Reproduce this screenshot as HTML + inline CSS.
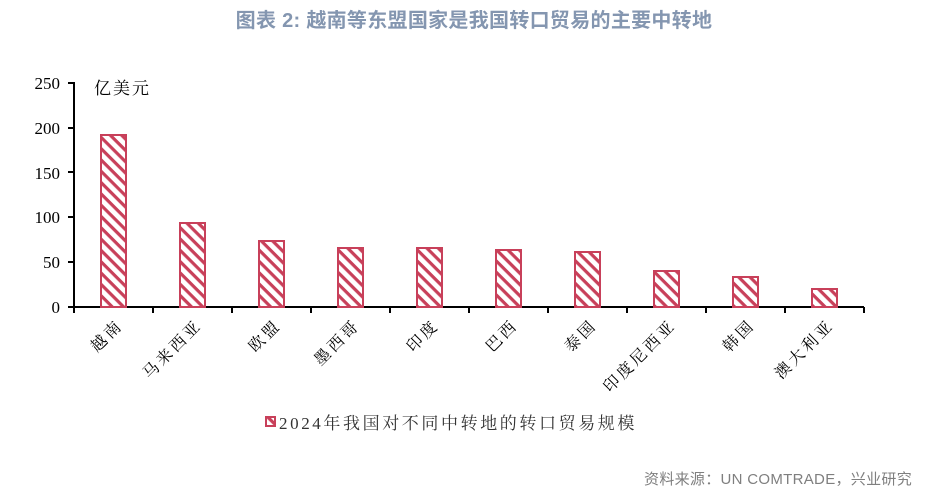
<!DOCTYPE html>
<html><head><meta charset="utf-8"><style>
body{margin:0;background:#fff;width:944px;height:494px;overflow:hidden}
</style></head><body>
<svg width="944" height="494" xmlns="http://www.w3.org/2000/svg">
<defs>
<pattern id="h" width="8" height="8" patternUnits="userSpaceOnUse" patternTransform="rotate(45)">
<rect width="8" height="8" fill="#fff"/><rect width="8" height="3.2" fill="#c8405a"/>
</pattern>
</defs>
<text x="474" y="27" text-anchor="middle" font-family="'Liberation Sans','Noto Sans CJK SC',sans-serif" font-weight="bold" font-size="20" letter-spacing="0.3" fill="#8496b0">图表 2:  越南等东盟国家是我国转口贸易的主要中转地</text>
<g font-family="'Liberation Serif','Noto Serif CJK SC',serif" font-size="17" fill="#000" text-anchor="end">
<text x="60" y="89">250</text><text x="60" y="134">200</text><text x="60" y="179">150</text>
<text x="60" y="223">100</text><text x="60" y="268">50</text><text x="60" y="313">0</text>
</g>
<text x="94" y="94" font-family="'Noto Serif CJK SC',serif" font-size="17" letter-spacing="2">亿美元</text>
<g stroke="#000" stroke-width="2">
<line x1="74" y1="82" x2="74" y2="308"/>
<line x1="73" y1="307" x2="864" y2="307"/>
<line x1="68" y1="83" x2="74" y2="83"/><line x1="68" y1="128" x2="74" y2="128"/>
<line x1="68" y1="172" x2="74" y2="172"/><line x1="68" y1="217" x2="74" y2="217"/>
<line x1="68" y1="262" x2="74" y2="262"/><line x1="68" y1="307" x2="74" y2="307"/>
</g>
<g stroke="#c8405a" stroke-width="2" fill="url(#h)">
<rect x="101" y="135" width="25" height="172"/>
<rect x="180" y="223" width="25" height="84"/>
<rect x="259" y="241" width="25" height="66"/>
<rect x="338" y="248" width="25" height="59"/>
<rect x="417" y="248" width="25" height="59"/>
<rect x="496" y="250" width="25" height="57"/>
<rect x="575" y="252" width="25" height="55"/>
<rect x="654" y="271" width="25" height="36"/>
<rect x="733" y="277" width="25" height="30"/>
<rect x="812" y="289" width="25" height="18"/>
</g>
<g stroke="#000" stroke-width="2">
<line x1="74" y1="307" x2="74" y2="313"/><line x1="153" y1="307" x2="153" y2="313"/>
<line x1="232" y1="307" x2="232" y2="313"/><line x1="311" y1="307" x2="311" y2="313"/>
<line x1="390" y1="307" x2="390" y2="313"/><line x1="469" y1="307" x2="469" y2="313"/>
<line x1="548" y1="307" x2="548" y2="313"/><line x1="627" y1="307" x2="627" y2="313"/>
<line x1="706" y1="307" x2="706" y2="313"/><line x1="785" y1="307" x2="785" y2="313"/>
<line x1="864" y1="307" x2="864" y2="313"/>
</g>
<g font-family="'Noto Serif CJK SC',serif" font-size="16" text-anchor="end" letter-spacing="3">
<text transform="translate(124,326) rotate(-45)">越南</text>
<text transform="translate(203,326) rotate(-45)">马来西亚</text>
<text transform="translate(282,326) rotate(-45)">欧盟</text>
<text transform="translate(361,326) rotate(-45)">墨西哥</text>
<text transform="translate(440,326) rotate(-45)">印度</text>
<text transform="translate(519,326) rotate(-45)">巴西</text>
<text transform="translate(598,326) rotate(-45)">泰国</text>
<text transform="translate(677,326) rotate(-45)">印度尼西亚</text>
<text transform="translate(756,326) rotate(-45)">韩国</text>
<text transform="translate(835,326) rotate(-45)">澳大利亚</text>
</g>
<rect x="266" y="417" width="9" height="9" fill="url(#h)" stroke="#c8405a" stroke-width="2"/>
<text x="279" y="429" font-family="'Liberation Serif','Noto Serif CJK SC',serif" font-size="17" letter-spacing="2.6" fill="#333">2024年我国对不同中转地的转口贸易规模</text>
<text x="912" y="484" text-anchor="end" font-family="'Liberation Sans','Noto Sans CJK SC',sans-serif" font-size="15" letter-spacing="0.3" fill="#7f7f7f">资料来源：UN COMTRADE，兴业研究</text>
</svg>
</body></html>
